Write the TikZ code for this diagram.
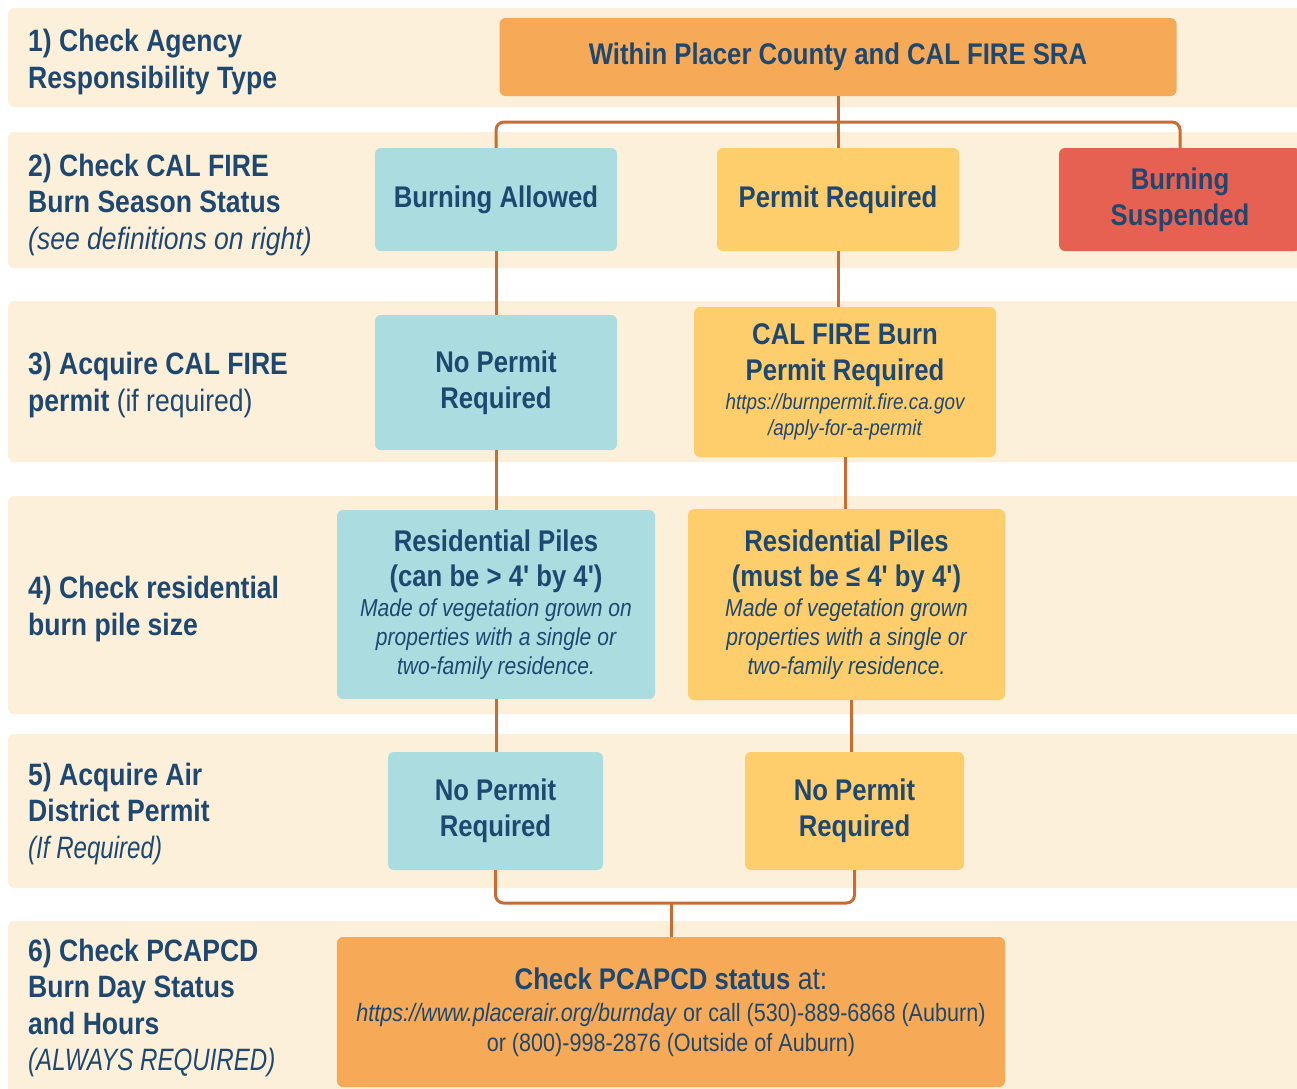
\documentclass[tikz,border=0pt]{standalone}
\usepackage{fontspec}
\newfontfamily\chartfont[FakeStretch=0.86]{Liberation Sans}
\newfontfamily\narrowfont[FakeStretch=0.78]{Liberation Sans}
\usetikzlibrary{calc}
\definecolor{band}{HTML}{FDF0DA}
\definecolor{orangebox}{HTML}{F6A957}
\definecolor{tealbox}{HTML}{AADCE0}
\definecolor{yellowbox}{HTML}{FECE6D}
\definecolor{redbox}{HTML}{E66152}
\definecolor{navy}{HTML}{1F4870}
\definecolor{linkc}{HTML}{C86C34}
\newcommand\titlefont{\chartfont\fontsize{30}{36}\selectfont\bfseries}
\newcommand\labelfont{\chartfont\fontsize{31}{36.5}\selectfont\bfseries}
\newcommand\plainfont{\chartfont\fontsize{31}{36.5}\selectfont\mdseries}
\newcommand\narrowitfont{\narrowfont\fontsize{31}{36.5}\selectfont\mdseries\itshape}
\newcommand\notefont{\chartfont\fontsize{24.6}{29}\selectfont\mdseries\itshape}
\newcommand\urlfont{\chartfont\fontsize{22}{26}\selectfont\mdseries\itshape}
\newcommand\callfont{\chartfont\fontsize{25.2}{30}\selectfont\mdseries}

\begin{document}
\begin{tikzpicture}[x=1bp, y=-1bp,
	box/.style={rounded corners=6bp, inner sep=0pt, align=center, text=navy, font=\titlefont},
	rowlabel/.style={anchor=west, align=left, text=navy, font=\labelfont, inner sep=0pt},
	link/.style={draw=linkc, line width=3bp, rounded corners=8bp}]
			%%%%% START %%%%%
			\useasboundingbox (0,0) rectangle (1297,1089);
			\clip (0,0) rectangle (1297,1089);
			
			% row bands
			\fill[band, rounded corners=6bp] (8,8) rectangle (1320,107);
			\fill[band, rounded corners=6bp] (8,132) rectangle (1320,268);
			\fill[band, rounded corners=6bp] (8,301) rectangle (1320,462);
			\fill[band, rounded corners=6bp] (8,496) rectangle (1320,714);
			\fill[band, rounded corners=6bp] (8,734) rectangle (1320,888);
			\fill[band, rounded corners=6bp] (8,921) rectangle (1320,1110);
			
			% row labels
			\node[rowlabel] (step1) at (28,62) {1) Check Agency\\Responsibility Type};
			\node[rowlabel] (step2) at (28,205) {2) Check CAL FIRE\\Burn Season Status\\{\plainfont\itshape (see definitions on right)}};
			\node[rowlabel] (step3) at (28,385) {3) Acquire CAL FIRE\\permit {\plainfont (if required)}};
			\node[rowlabel] (step4) at (28,609) {4) Check residential\\burn pile size};
			\node[rowlabel] (step5) at (28,814) {5) Acquire Air\\District Permit\\{\narrowitfont (If Required)}};
			\node[rowlabel] (step6) at (28,1008) {6) Check PCAPCD\\Burn Day Status\\and Hours\\{\narrowitfont (ALWAYS REQUIRED)}};
			
			% boxes
			\node[box, fill=orangebox, minimum width=677bp, minimum height=78bp] (within) at (838,57) {Within Placer County and CAL FIRE SRA};
			
			\node[box, fill=tealbox, minimum width=242bp, minimum height=103bp] (allowed) at (496,199.5) {Burning Allowed};
			\node[box, fill=yellowbox, minimum width=242bp, minimum height=103bp] (permreq) at (838,199.5) {Permit Required};
			\node[box, fill=redbox, minimum width=242bp, minimum height=103bp] (suspended) at (1180,199.5) {Burning\\Suspended};
			
			\node[box, fill=tealbox, minimum width=242bp, minimum height=135bp] (nopermitA) at (496,382.5) {No Permit\\Required};
			\node[box, fill=yellowbox, minimum width=302bp, minimum height=150bp] (calpermit) at (845,382) {CAL FIRE Burn\\Permit Required\\[-7bp]{\urlfont https://burnpermit.fire.ca.gov}\\[-9bp]{\urlfont /apply-for-a-permit}};
			
			\node[box, fill=tealbox, minimum width=318bp, minimum height=189bp] (pilesA) at (496,604.5) {Residential Piles\\(can be > 4' by 4')\\[-6bp]{\notefont Made of vegetation grown on}\\[-7bp]{\notefont properties with a single or}\\[-7bp]{\notefont two-family residence.}};
			\node[box, fill=yellowbox, minimum width=317bp, minimum height=191bp] (pilesB) at (846.5,604.5) {Residential Piles\\(must be ≤ 4' by 4')\\[-6bp]{\notefont Made of vegetation grown}\\[-7bp]{\notefont properties with a single or}\\[-7bp]{\notefont two-family residence.}};
			
			\node[box, fill=tealbox, minimum width=215bp, minimum height=118bp] (airA) at (495.5,811) {No Permit\\Required};
			\node[box, fill=yellowbox, minimum width=219bp, minimum height=118bp] (airB) at (854.5,811) {No Permit\\Required};
			
			\node[box, fill=orangebox, minimum width=668bp, minimum height=150bp] (pcapcd) at (671,1012) {Check PCAPCD status{\plainfont{} at:}\\[-4bp]{\callfont\textit{https://www.placerair.org/burnday} or call (530)-889-6868 (Auburn)}\\[-6bp]{\callfont or (800)-998-2876 (Outside of Auburn)}};
			
			% connectors
			\coordinate (split) at (838,122);
			\coordinate (merge) at (671,903);
			\draw[link] (within.south) -- (permreq.north);
			\draw[link] (allowed.north) |- (split) -| (suspended.north);
			\draw[link] (allowed.south) -- (nopermitA.north);
			\draw[link] (permreq.south) -- (permreq.south |- calpermit.north);
			\draw[link] (nopermitA.south) -- (pilesA.north);
			\draw[link] (calpermit.south) -- (calpermit.south |- pilesB.north);
			\draw[link] (pilesA.south) -- (pilesA.south |- airA.north);
			\draw[link] (airB.north) ++(-3,0) coordinate (airBtop) (pilesB.south -| airBtop) -- (airBtop);
			\draw[link] (airA.south) |- (merge) -| (airB.south);
			\draw[link] (merge) -- (pcapcd.north);
			
			%%%%% END %%%%%
\end{tikzpicture}
\end{document}
